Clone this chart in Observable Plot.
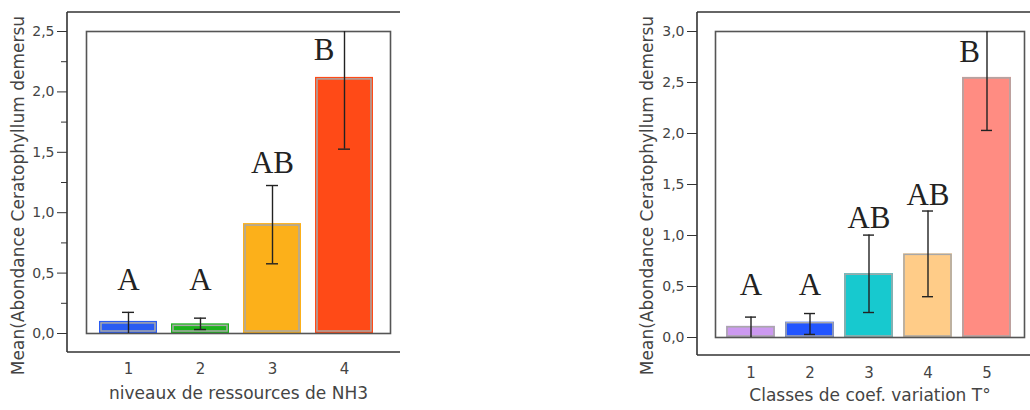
<!DOCTYPE html>
<html>
<head>
<meta charset="utf-8">
<script src="https://cdn.jsdelivr.net/npm/d3@7"></script>
<script src="https://cdn.jsdelivr.net/npm/@observablehq/plot@0.6"></script>
<style>
  html, body { margin: 0; padding: 0; background: #fff; }
  #wrap { position: relative; width: 1030px; height: 410px; overflow: hidden; }
  .panel { position: absolute; top: 0; }
</style>
</head>
<body>
<div id="wrap">
  <div id="left" class="panel" style="left:0px"></div>
  <div id="right" class="panel" style="left:600px"></div>
</div>
<script>
// ---- Left chart data ----
const catsLeft = ["1", "2", "3", "4"];
const meanLeft = [0.10, 0.08, 0.91, 2.12];
const loLeft = [-0.02, 0.033, 0.577, 1.526];
const hiLeft = [0.175, 0.127, 1.225, 2.71];
const lettersLeft = ["A", "A", "AB", "B"];
const letterYLeft = [0.356, 0.356, 1.325, 2.268];
const colorsLeft = ["#2a5cf2", "#1cb21c", "#fcb01a", "#ff4a17"];
const yTicksLeft = [0, 0.5, 1, 1.5, 2, 2.5];
const yMinorLeft = [0.25, 0.75, 1.25, 1.75, 2.25];
const xTitleLeft = "niveaux de ressources de NH3";

// ---- Right chart data ----
const catsRight = ["1", "2", "3", "4", "5"];
const meanRight = [0.11, 0.15, 0.626, 0.82, 2.55];
const loRight = [-0.01, 0.03, 0.245, 0.40, 2.03];
const hiRight = [0.20, 0.235, 1.004, 1.24, 3.07];
const lettersRight = ["A", "A", "AB", "AB", "B"];
const letterYRight = [0.414, 0.414, 1.07, 1.295, 2.70];
const colorsRight = ["#cc99f0", "#2255ff", "#17c9cf", "#ffcc88", "#ff8c82"];
const yTicksRight = [0, 0.5, 1, 1.5, 2, 2.5, 3];
const yMinorRight = [];
const xTitleRight = "Classes de coef. variation T°";

const yTitle = "Mean(Abondance Ceratophyllum demersu";

const fmt = d => d.toFixed(1).replace(".", ",");

function makeChart(cfg) {
  const data = cfg.cats.map((c, i) => ({
    cat: c, mean: cfg.mean[i], lo: cfg.lo[i], hi: cfg.hi[i],
    letter: cfg.letters[i], ly: cfg.letterY[i]
  }));
  const m = cfg.margins;
  const off = cfg.outer;
  const capInset = cfg.capInset;
  const chart = Plot.plot({
    width: cfg.width,
    height: 410,
    marginLeft: m.left, marginRight: m.right, marginTop: m.top, marginBottom: m.bottom,
    style: { fontFamily: "DejaVu Sans", fontSize: "14px", color: "#333", background: "transparent", overflow: "visible" },
    x: { domain: cfg.cats, paddingInner: cfg.padIn, paddingOuter: cfg.padOut, align: 0.45, axis: null },
    y: { domain: cfg.yDomain, axis: null },
    color: { domain: cfg.cats, range: cfg.colors },
    marks: [
      Plot.barY(data, { x: "cat", y: "mean", fill: "cat" }),
      Plot.barY(data, { x: "cat", y: "mean", fill: "none", stroke: "#a8a8a8", strokeWidth: 1.5, inset: cfg.barStrokeInset }),
      Plot.frame({ stroke: "#555", strokeWidth: 1.6 }),
      Plot.ruleX(data, { x: "cat", y1: "lo", y2: "hi", stroke: "#222", strokeWidth: 1.4, clip: true }),
      Plot.tickY(data, { x: "cat", y: "hi", stroke: "#222", strokeWidth: 1.4, inset: capInset, clip: true }),
      Plot.tickY(data, { x: "cat", y: "lo", stroke: "#222", strokeWidth: 1.4, inset: capInset, clip: true }),
      Plot.text(data.filter(d => d.letter !== "B"), { x: "cat", y: "ly", text: "letter", lineAnchor: "bottom", fontFamily: "Liberation Serif", fontSize: 31, fill: "#222" }),
      Plot.text(data.filter(d => d.letter === "B"), { x: "cat", y: "ly", text: "letter", lineAnchor: "bottom", textAnchor: "end", dx: cfg.bDx, fontFamily: "Liberation Serif", fontSize: 31, fill: "#222" }),
      Plot.axisY(cfg.yTicks, { anchor: "left", tickSize: 10, tickPadding: 3, dx: -off.left, tickFormat: fmt, label: null, fontSize: 14, stroke: "#333", fill: "#444" }),
      ...(cfg.yMinor.length ? [Plot.axisY(cfg.yMinor, { anchor: "left", tickSize: 6, tickPadding: 3, dx: -off.left, tickFormat: () => "", label: null, stroke: "#333" })] : []),
      Plot.axisX({ anchor: "bottom", tickSize: 0, tickPadding: 30, label: null, fontSize: 15, fill: "#444" }),
      Plot.text([cfg.xTitle], { frameAnchor: "bottom", textAnchor: "middle", dy: cfg.xTitleDy, fontSize: 17, fill: "#444" }),
      Plot.text([yTitle], { frameAnchor: "left", textAnchor: "middle", rotate: -90, dx: -68, dy: cfg.yTitleDy, fontSize: 17, fill: "#444" })
    ]
  });
  // outer (open) frame: top, left, bottom lines
  const svg = d3.select(chart.tagName.toLowerCase() === "svg" ? chart : chart.querySelector("svg"));
  const x0 = m.left - off.left;
  const yT = m.top - off.top;
  const yB = 410 - m.bottom + off.bottom;
  const xR = cfg.outerRight;
  const g = svg.append("g").attr("stroke", "#333").attr("stroke-width", 1.6).attr("fill", "none");
  g.append("line").attr("x1", x0).attr("x2", xR).attr("y1", yT).attr("y2", yT);
  g.append("line").attr("x1", x0).attr("x2", x0).attr("y1", yT).attr("y2", yB);
  g.append("line").attr("x1", x0).attr("x2", xR).attr("y1", yB).attr("y2", yB);
  return chart;
}

document.getElementById("left").appendChild(makeChart({
  width: 420,
  cats: catsLeft, mean: meanLeft, lo: loLeft, hi: hiLeft, letters: lettersLeft, letterY: letterYLeft,
  colors: colorsLeft, yTicks: yTicksLeft, yMinor: yMinorLeft, yDomain: [0, 2.5],
  margins: { left: 86, right: 30, top: 31, bottom: 77 },
  outer: { left: 19, top: 19, bottom: 19 }, outerRight: 400,
  padIn: 0.194, padOut: 0.2, capInset: 23, barStrokeInset: 2, bDx: -10,
  xTitle: xTitleLeft, xTitleDy: 65, yTitleDy: 13
}));

document.getElementById("right").appendChild(makeChart({
  width: 430,
  cats: catsRight, mean: meanRight, lo: loRight, hi: hiRight, letters: lettersRight, letterY: letterYRight,
  colors: colorsRight, yTicks: yTicksRight, yMinor: yMinorRight, yDomain: [0, 3],
  margins: { left: 115, right: 6, top: 31, bottom: 73 },
  outer: { left: 18, top: 19, bottom: 18 }, outerRight: 430,
  padIn: 0.168, padOut: 0.185, capInset: 19, barStrokeInset: 1, bDx: -7,
  xTitle: xTitleRight, xTitleDy: 63, yTitleDy: 11
}));
</script>
</body>
</html>
